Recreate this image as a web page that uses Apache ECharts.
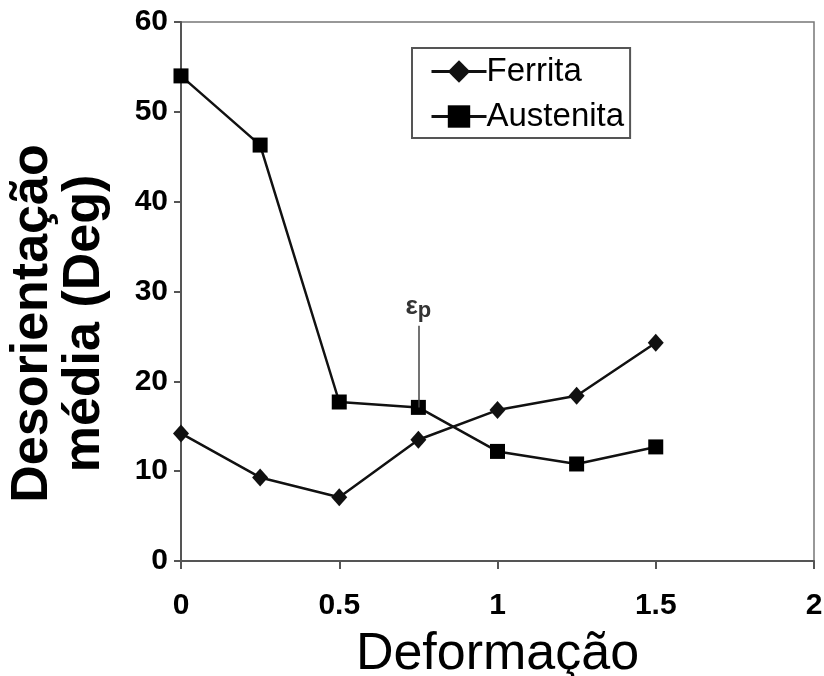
<!DOCTYPE html>
<html>
<head>
<meta charset="utf-8">
<script src="https://cdn.jsdelivr.net/npm/echarts@6/dist/echarts.min.js"></script>
<style>
  html, body { margin: 0; padding: 0; background: #fff; }
  #chart { width: 824px; height: 676px; }
</style>
</head>
<body>
<div id="chart"></div>
<script>
// Deformation levels (strain)
const deformacao = [0, 0.25, 0.5, 0.75, 1, 1.25, 1.5];
// Mean misorientation (degrees) per phase
const ferrita = [14.2, 9.3, 7.1, 13.5, 16.8, 18.4, 24.3];
const austenita = [54.0, 46.3, 17.7, 17.1, 12.2, 10.8, 12.7];
// Peak strain marker
const epsP = 0.75;
const epsPTop = 26.2;

const pairs = (xs, ys) => xs.map((x, i) => [x, ys[i]]);

const chart = echarts.init(document.getElementById('chart'));
const font = 'Liberation Sans, Arial, sans-serif';

chart.setOption({
  animation: false,
  backgroundColor: '#fff',
  grid: {
    left: 181, top: 22, right: 10, bottom: 115,
    containLabel: false, outerBoundsMode: 'none',
    show: true, borderColor: '#777', borderWidth: 1.5
  },
  legend: {
    orient: 'vertical',
    left: 412, top: 48,
    itemWidth: 55, itemHeight: 28,
    itemGap: 12,
    padding: [7, 6, 5, 18],
    borderColor: '#555', borderWidth: 2,
    lineStyle: { width: 3, color: '#111' },
    textStyle: { fontFamily: font, fontSize: 33, color: '#000', padding: [0, 0, 0, -5] },
    data: ['Ferrita', 'Austenita']
  },
  xAxis: {
    type: 'value', min: 0, max: 2, interval: 0.5,
    name: 'Deformação', nameLocation: 'middle', nameGap: 68,
    nameTextStyle: { fontFamily: font, fontSize: 52, color: '#000' },
    axisLine: { lineStyle: { color: '#555', width: 2 } },
    axisTick: { show: true, length: 8, lineStyle: { color: '#555', width: 2 } },
    axisLabel: { fontFamily: font, fontSize: 30, fontWeight: 'bold', color: '#000', margin: 30 },
    splitLine: { show: false }
  },
  yAxis: {
    type: 'value', min: 0, max: 60, interval: 10,
    name: 'Desorientação\nmédia (Deg)', nameLocation: 'middle', nameGap: 70, nameRotate: 90,
    nameTextStyle: {
      fontFamily: font, fontSize: 52, fontWeight: 'bold', color: '#000', lineHeight: 52,
      padding: [0, 64, 0, 0]
    },
    axisLine: { show: true, lineStyle: { color: '#555', width: 2 } },
    axisTick: { show: true, length: 7, lineStyle: { color: '#555', width: 2 } },
    axisLabel: { fontFamily: font, fontSize: 30, fontWeight: 'bold', color: '#000', margin: 13 },
    splitLine: { show: false }
  },
  series: [
    {
      name: 'Ferrita', type: 'line',
      data: pairs(deformacao, ferrita),
      symbol: 'diamond', symbolSize: [16, 18],
      lineStyle: { color: '#111', width: 2.5 },
      itemStyle: { color: '#111' }
    },
    {
      name: 'Austenita', type: 'line',
      data: pairs(deformacao, austenita),
      symbol: 'rect', symbolSize: 15,
      lineStyle: { color: '#111', width: 2.5 },
      itemStyle: { color: '#000' },
      markLine: {
        silent: true, symbol: 'none',
        lineStyle: { color: '#444', width: 1.5, type: 'solid' },
        label: {
          show: true, position: 'end', distance: 4,
          formatter: '{e|ε}{p|p}',
          rich: {
            e: { fontFamily: font, fontSize: 26, fontWeight: 'bold', color: '#333' },
            p: { fontFamily: font, fontSize: 22, fontWeight: 'bold', color: '#333', padding: [8, 0, 0, 0] }
          }
        },
        data: [[{ coord: [epsP, austenita[3]] }, { coord: [epsP, epsPTop] }]]
      }
    }
  ]
});
</script>
</body>
</html>
